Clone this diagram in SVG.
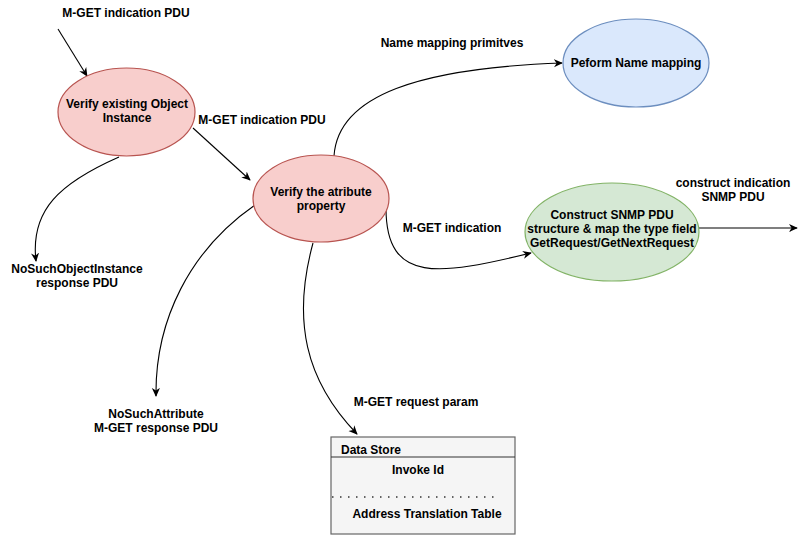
<svg xmlns="http://www.w3.org/2000/svg" width="805" height="535" viewBox="0 0 805 535">
<defs>
<marker id="arr" viewBox="0 0 10 10" refX="9" refY="5" markerWidth="9" markerHeight="9" markerUnits="userSpaceOnUse" orient="auto">
<path d="M0,0.5 L10,5 L0,9.5 L3,5 Z" fill="#000"/>
</marker>
<style>
text{font-family:"Liberation Sans",Arial,Helvetica,sans-serif;font-size:12px;font-weight:bold;fill:#000;text-anchor:middle}
.l{text-anchor:start}
.c{fill:none;stroke:#000;stroke-width:1.1;marker-end:url(#arr)}
.red{fill:#f8cecc;stroke:#b85450;stroke-width:1.2}
.blue{fill:#dae8fc;stroke:#6c8ebf;stroke-width:1.2}
.green{fill:#d5e8d4;stroke:#82b366;stroke-width:1.2}
.store{fill:#f5f5f5;stroke:#666;stroke-width:1.2}
</style>
</defs>
<rect width="805" height="535" fill="#fff"/>
<g id="connectors">
<path class="c" d="M58,29 L87,76"/>
<path class="c" d="M193,128 L250,180"/>
<path class="c" d="M334,156 C338,95 420,68 562,63"/>
<path class="c" d="M386,208 C386,285 440,275 531,253"/>
<path class="c" d="M699,228 L797,228"/>
<path class="c" d="M119,157 C60,183 30,210 36,261"/>
<path class="c" d="M255,205 C190,250 155,320 156,396"/>
<path class="c" d="M313,243 C292,320 305,380 357,434"/>
</g>
<g id="labels">
<text x="126" y="17">M-GET indication PDU</text>
<text x="262" y="124">M-GET indication PDU</text>
<text x="452" y="47">Name mapping primitves</text>
<text x="452" y="232">M-GET indication</text>
<text x="733" y="187">construct indication</text>
<text x="733" y="201">SNMP PDU</text>
<text x="77" y="273">NoSuchObjectInstance</text>
<text x="77" y="287">response PDU</text>
<text x="156" y="418">NoSuchAttribute</text>
<text x="156" y="432">M-GET response PDU</text>
<text x="416" y="406">M-GET request param</text>
</g>
<g id="verify-object">
<ellipse class="red" cx="126.5" cy="112" rx="68.5" ry="44"/>
<text x="127" y="108">Verify existing Object</text>
<text x="127" y="122">Instance</text>
</g>
<g id="verify-attribute">
<ellipse class="red" cx="321" cy="198.5" rx="68" ry="43.5"/>
<text x="321" y="196">Verify the atribute</text>
<text x="321" y="210">property</text>
</g>
<g id="name-mapping">
<ellipse class="blue" cx="636" cy="63" rx="73" ry="44"/>
<text x="636" y="67">Peform Name mapping</text>
</g>
<g id="construct-snmp">
<ellipse class="green" cx="612" cy="232" rx="87" ry="49"/>
<text x="612" y="219">Construct SNMP PDU</text>
<text x="612" y="233">structure &amp; map the type field</text>
<text x="612" y="247">GetRequest/GetNextRequest</text>
</g>
<g id="data-store">
<rect class="store" x="331" y="437" width="184" height="97"/>
<line x1="331" y1="457" x2="515" y2="457" stroke="#333" stroke-width="1.2"/>
<text class="l" x="341" y="454">Data Store</text>
<text x="418" y="474">Invoke Id</text>
<line x1="332" y1="497" x2="496" y2="497" stroke="#333" stroke-width="1.5" stroke-dasharray="1.5 6.5"/>
<text x="427" y="518">Address Translation Table</text>
</g>
</svg>
